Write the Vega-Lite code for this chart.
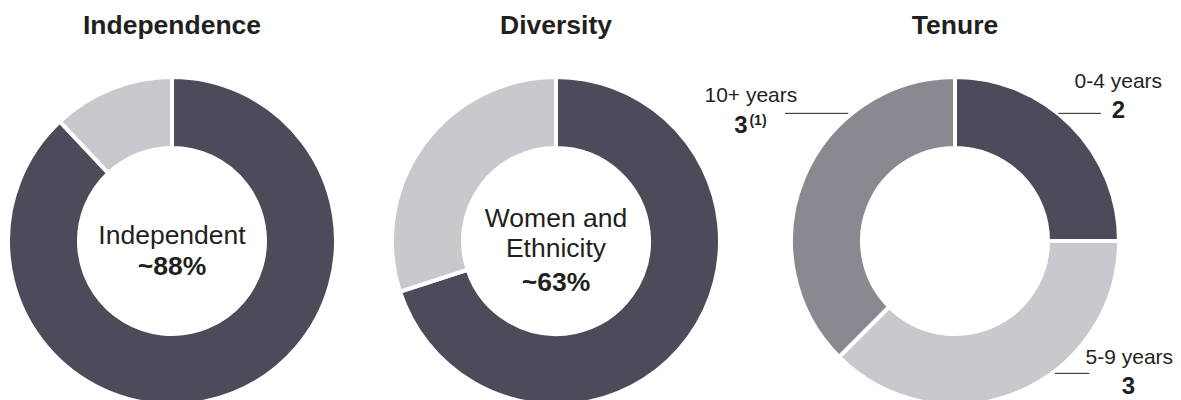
{
  "$schema": "https://vega.github.io/schema/vega-lite/v6.json",
  "padding": {"left": 0, "top": 12, "right": 0, "bottom": 0},
  "autosize": {"type": "pad"},
  "bounds": "flush",
  "spacing": 0,
  "background": "white",
  "resolve": {"scale": {"color": "independent"}},
  "config": {
    "view": {"stroke": null},
    "font": "Liberation Sans",
    "title": {"fontSize": 26.5, "fontWeight": "bold", "color": "#231f20", "anchor": "middle", "baseline": "alphabetic", "offset": 2, "font": "Liberation Sans"}
  },
  "datasets": {
    "independence": [
      {"segment": "Independent", "label": "~88%", "share": 88, "rank": 1},
      {"segment": "Not independent", "label": "~12%", "share": 12, "rank": 2}
    ],
    "diversity": [
      {"segment": "Women and\nEthnicity", "label": "~63%", "share": 70, "rank": 1},
      {"segment": "Other", "label": "", "share": 30, "rank": 2}
    ],
    "tenure": [
      {"range": "0-4 years", "directors": 2, "rank": 1},
      {"range": "5-9 years", "directors": 3, "rank": 2},
      {"range": "10+ years", "directors": 3, "rank": 3}
    ],
    "tenureNames": [
      {"range": "0-4 years", "lx": 1.008, "ly": 0.946},
      {"range": "5-9 years", "lx": 1.076, "ly": -0.757},
      {"range": "10+ years", "lx": -1.26, "ly": 0.86}
    ],
    "tenureCounts": [
      {"range": "0-4 years", "count": "2", "lx": 1.008, "ly": 0.757},
      {"range": "5-9 years", "count": "3", "lx": 1.07, "ly": -0.944},
      {"range": "10+ years", "count": "3", "lx": -1.322, "ly": 0.669}
    ],
    "tenureNotes": [
      {"range": "10+ years", "note": "(1)", "lx": -1.216, "ly": 0.717}
    ],
    "tenureLeaders": [
      {"range": "0-4 years", "lx": 0.638, "lx2": 0.901, "ly": 0.788},
      {"range": "5-9 years", "lx": 0.617, "lx2": 0.829, "ly": -0.817},
      {"range": "10+ years", "lx": -1.049, "lx2": -0.659, "ly": 0.788}
    ]
  },
  "hconcat": [
    {
      "width": 344,
      "height": 400,
      "title": "Independence",
      "data": {"name": "independence"},
      "layer": [
        {
          "mark": {"type": "arc", "outerRadius": 164, "innerRadius": 93, "stroke": "white", "strokeWidth": 4},
          "encoding": {
            "theta": {"field": "share", "type": "quantitative", "stack": true},
            "order": {"field": "rank", "type": "quantitative"},
            "color": {"field": "segment", "type": "nominal", "legend": null,
              "scale": {"domain": ["Independent", "Not independent"], "range": ["#4b4b59", "#c9c8cd"]}}
          }
        },
        {
          "transform": [{"filter": "datum.rank == 1"}],
          "mark": {"type": "text", "fontSize": 26.5, "baseline": "alphabetic", "align": "center", "dy": 3, "color": "#231f20"},
          "encoding": {"text": {"field": "segment", "type": "nominal"}}
        },
        {
          "transform": [{"filter": "datum.rank == 1"}],
          "mark": {"type": "text", "fontSize": 26.5, "fontWeight": "bold", "baseline": "alphabetic", "align": "center", "dy": 34, "color": "#231f20"},
          "encoding": {"text": {"field": "label", "type": "nominal"}}
        }
      ]
    },
    {
      "width": 424,
      "height": 400,
      "title": "Diversity",
      "data": {"name": "diversity"},
      "layer": [
        {
          "mark": {"type": "arc", "outerRadius": 164, "innerRadius": 93, "stroke": "white", "strokeWidth": 4},
          "encoding": {
            "theta": {"field": "share", "type": "quantitative", "stack": true},
            "order": {"field": "rank", "type": "quantitative"},
            "color": {"field": "segment", "type": "nominal", "legend": null,
              "scale": {"domain": ["Women and\nEthnicity", "Other"], "range": ["#4b4b59", "#c9c8cd"]}}
          }
        },
        {
          "transform": [{"filter": "datum.rank == 1"}],
          "mark": {"type": "text", "fontSize": 26.5, "baseline": "alphabetic", "align": "center", "dy": -14, "lineBreak": "\n", "lineHeight": 30, "color": "#231f20"},
          "encoding": {"text": {"field": "segment", "type": "nominal"}}
        },
        {
          "transform": [{"filter": "datum.rank == 1"}],
          "mark": {"type": "text", "fontSize": 26.5, "fontWeight": "bold", "baseline": "alphabetic", "align": "center", "dy": 50, "color": "#231f20"},
          "encoding": {"text": {"field": "label", "type": "nominal"}}
        }
      ]
    },
    {
      "width": 374,
      "height": 400,
      "title": "Tenure",
      "layer": [
        {
          "data": {"name": "tenure"},
          "mark": {"type": "arc", "outerRadius": 164, "innerRadius": 93, "stroke": "white", "strokeWidth": 4},
          "encoding": {
            "theta": {"field": "directors", "type": "quantitative", "stack": true},
            "order": {"field": "rank", "type": "quantitative"},
            "color": {"field": "range", "type": "nominal", "legend": null,
              "scale": {"domain": ["0-4 years", "5-9 years", "10+ years"], "range": ["#4b4b59", "#c9c8cd", "#8b8891"]}}
          }
        },
        {
          "data": {"name": "tenureLeaders"},
          "mark": {"type": "rule", "color": "#231f20", "strokeWidth": 1},
          "encoding": {
            "x": {"field": "lx", "type": "quantitative", "axis": null, "scale": {"domain": [-1.1543, 1.1543], "nice": false, "zero": false}},
            "x2": {"field": "lx2"},
            "y": {"field": "ly", "type": "quantitative", "axis": null, "scale": {"domain": [-1.2346, 1.2346], "nice": false, "zero": false}}
          }
        },
        {
          "data": {"name": "tenureNames"},
          "mark": {"type": "text", "fontSize": 21, "baseline": "alphabetic", "align": "center", "color": "#231f20"},
          "encoding": {
            "x": {"field": "lx", "type": "quantitative"},
            "y": {"field": "ly", "type": "quantitative"},
            "text": {"field": "range", "type": "nominal"}
          }
        },
        {
          "data": {"name": "tenureCounts"},
          "mark": {"type": "text", "fontSize": 24, "fontWeight": "bold", "baseline": "alphabetic", "align": "center", "color": "#231f20"},
          "encoding": {
            "x": {"field": "lx", "type": "quantitative"},
            "y": {"field": "ly", "type": "quantitative"},
            "text": {"field": "count", "type": "nominal"}
          }
        },
        {
          "data": {"name": "tenureNotes"},
          "mark": {"type": "text", "fontSize": 14, "fontWeight": "bold", "baseline": "alphabetic", "align": "center", "color": "#231f20"},
          "encoding": {
            "x": {"field": "lx", "type": "quantitative"},
            "y": {"field": "ly", "type": "quantitative"},
            "text": {"field": "note", "type": "nominal"}
          }
        }
      ]
    }
  ]
}
